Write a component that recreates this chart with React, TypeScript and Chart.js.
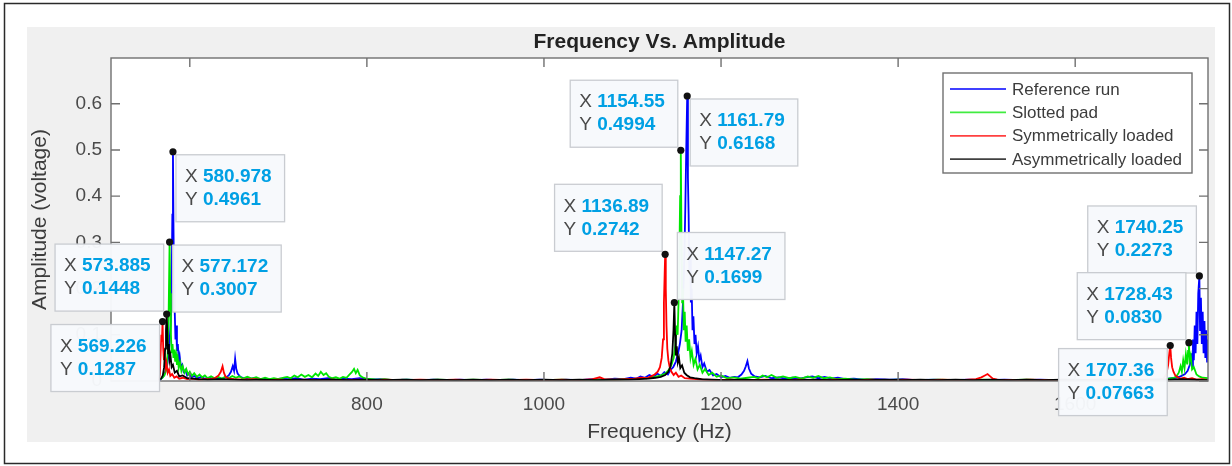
import React, { useEffect, useRef } from 'react';
import { Chart, registerables } from 'chart.js';

Chart.register(...registerables);

// ---------------- data ----------------
const SERIES_NAMES = ['Reference run', 'Slotted pad', 'Symmetrically loaded', 'Asymmetrically loaded'];
const SERIES_COLORS = ['#0000ff', '#00e600', '#ff0000', '#000000'];

const X_TICKS = [600, 800, 1000, 1200, 1400, 1600];
const X_TICK_LABELS = ['600', '800', '1000', '1200', '1400', '1600'];
const Y_TICKS = [0, 0.1, 0.2, 0.3, 0.4, 0.5, 0.6];
const Y_TICK_LABELS = ['0', '0.1', '0.2', '0.3', '0.4', '0.5', '0.6'];

const X_MIN = 511;
const X_MAX = 1750;
const Y_MIN = 0;
const Y_MAX = 0.699;

const TITLE = 'Frequency Vs. Amplitude';
const X_LABEL = 'Frequency (Hz)';
const Y_LABEL = 'Amplitude (voltage)';

// Reference run (blue)
const REFERENCE_RUN: [number, number][] = [
  [566, 0.002], [568, 0.005], [570, 0.009], [572, 0.018], [574, 0.03], [575.5, 0.05], [577, 0.08], [578.5, 0.13],
  [579.5, 0.22], [580.3, 0.36], [580.978, 0.4961], [581.6, 0.33], [582.2, 0.21], [583, 0.15], [583.8, 0.09],
  [584.6, 0.12], [585.5, 0.065], [586.5, 0.08], [587.5, 0.045], [588.5, 0.055], [590, 0.03], [591.5, 0.035],
  [593, 0.02], [595, 0.024], [597, 0.012], [599, 0.016], [602, 0.008], [605, 0.011], [609, 0.006], [613, 0.009],
  [617, 0.005], [622, 0.007], [627, 0.004], [632, 0.006], [637, 0.005], [641, 0.008], [644, 0.012], [646.5, 0.02],
  [648.5, 0.032], [650, 0.022], [651.2, 0.048], [652.5, 0.026], [654, 0.016], [657, 0.009], [661, 0.006],
  [666, 0.004], [672, 0.006], [679, 0.003], [686, 0.005], [694, 0.003], [702, 0.005], [711, 0.004], [720, 0.006],
  [729, 0.003], [738, 0.005], [747, 0.004], [756, 0.006], [765, 0.003], [774, 0.005], [783, 0.004], [792, 0.006],
  [801, 0.003], [815, 0.004], [830, 0.002], [845, 0.003], [860, 0.002], [875, 0.003], [890, 0.002], [905, 0.003],
  [920, 0.002], [935, 0.003], [950, 0.002], [965, 0.003], [980, 0.002], [995, 0.003], [1010, 0.002], [1025, 0.003],
  [1040, 0.002], [1055, 0.004], [1068, 0.003], [1080, 0.005], [1090, 0.004], [1098, 0.007], [1104, 0.005],
  [1109, 0.01], [1114, 0.007], [1119, 0.013], [1124, 0.009], [1128, 0.016], [1132, 0.011], [1136, 0.019],
  [1140, 0.014], [1143, 0.024], [1146, 0.03], [1149, 0.042], [1151.5, 0.06], [1153.5, 0.08], [1155.5, 0.11],
  [1157, 0.17], [1158.5, 0.26], [1159.7, 0.38], [1160.7, 0.5], [1161.79, 0.6168], [1162.6, 0.44], [1163.4, 0.36],
  [1164.2, 0.24], [1165, 0.29], [1165.9, 0.17], [1166.8, 0.2], [1167.8, 0.11], [1168.8, 0.14], [1170, 0.08],
  [1171.2, 0.1], [1172.5, 0.06], [1174, 0.075], [1175.5, 0.045], [1177, 0.055], [1179, 0.03], [1181, 0.038],
  [1184, 0.02], [1187, 0.024], [1191, 0.012], [1195, 0.015], [1200, 0.008], [1205, 0.011], [1210, 0.007],
  [1215, 0.009], [1219, 0.008], [1223, 0.014], [1226, 0.022], [1228, 0.032], [1229.8, 0.043], [1231.5, 0.027],
  [1234, 0.016], [1238, 0.01], [1244, 0.008], [1250, 0.011], [1257, 0.006], [1265, 0.008], [1273, 0.005],
  [1281, 0.007], [1289, 0.005], [1296, 0.008], [1303, 0.01], [1310, 0.006], [1317, 0.009], [1324, 0.005],
  [1332, 0.007], [1340, 0.004], [1350, 0.005], [1362, 0.003], [1375, 0.004], [1390, 0.003], [1405, 0.004],
  [1420, 0.002], [1440, 0.003], [1460, 0.002], [1480, 0.003], [1500, 0.002], [1520, 0.003], [1540, 0.002],
  [1560, 0.003], [1580, 0.002], [1600, 0.003], [1620, 0.002], [1640, 0.003], [1660, 0.002], [1680, 0.003],
  [1695, 0.004], [1705, 0.005], [1713, 0.007], [1719, 0.01], [1724, 0.015], [1727, 0.022], [1729.5, 0.035],
  [1731, 0.06], [1732, 0.03], [1733, 0.09], [1734, 0.045], [1735, 0.12], [1736, 0.06], [1737, 0.15], [1738, 0.08],
  [1739, 0.19], [1740.25, 0.2273], [1741, 0.11], [1742, 0.18], [1743, 0.08], [1744, 0.15], [1745, 0.06],
  [1746, 0.13], [1747, 0.05], [1748, 0.11], [1749, 0.04], [1750, 0.09],
];

// Slotted pad (green)
const SLOTTED_PAD: [number, number][] = [
  [566, 0.003], [569, 0.007], [571.5, 0.013], [573.5, 0.025], [575, 0.06], [576.2, 0.16], [577.172, 0.3007],
  [577.9, 0.19], [578.7, 0.1], [579.5, 0.06], [580.5, 0.08], [581.5, 0.05], [582.5, 0.068], [583.5, 0.042],
  [584.5, 0.058], [585.5, 0.035], [586.5, 0.048], [587.5, 0.028], [589, 0.04], [590.5, 0.022], [592, 0.032],
  [594, 0.018], [596, 0.026], [598, 0.014], [600, 0.02], [602.5, 0.011], [605, 0.017], [608, 0.009], [611, 0.014],
  [614, 0.008], [617, 0.012], [620, 0.006], [624, 0.01], [628, 0.006], [632, 0.009], [636, 0.005], [640, 0.009],
  [644, 0.006], [648, 0.011], [652, 0.007], [656, 0.01], [660, 0.005], [665, 0.009], [670, 0.005], [675, 0.008],
  [680, 0.004], [685, 0.007], [690, 0.004], [695, 0.006], [700, 0.004], [705, 0.007], [710, 0.009], [714, 0.006],
  [718, 0.012], [722, 0.008], [726, 0.014], [730, 0.009], [734, 0.013], [738, 0.008], [742, 0.016], [745, 0.011],
  [748, 0.02], [751, 0.013], [754, 0.017], [757, 0.009], [761, 0.006], [765, 0.008], [769, 0.005], [773, 0.009],
  [777, 0.007], [780, 0.013], [783, 0.019], [785.5, 0.026], [787.5, 0.017], [789.5, 0.024], [792, 0.012],
  [795, 0.008], [799, 0.005], [805, 0.004], [812, 0.003], [820, 0.004], [830, 0.002], [845, 0.003], [860, 0.002],
  [880, 0.003], [900, 0.002], [920, 0.003], [940, 0.002], [960, 0.003], [980, 0.002], [1000, 0.002], [1020, 0.003],
  [1040, 0.002], [1060, 0.003], [1080, 0.003], [1095, 0.004], [1108, 0.005], [1118, 0.007], [1126, 0.009],
  [1132, 0.012], [1137, 0.016], [1141, 0.024], [1144, 0.035], [1146.5, 0.05], [1148.5, 0.08], [1150, 0.12],
  [1151, 0.1], [1152, 0.17], [1153, 0.28], [1153.8, 0.4], [1154.55, 0.4994], [1155.3, 0.32], [1156.1, 0.17],
  [1157, 0.2], [1158, 0.11], [1159, 0.15], [1160, 0.085], [1161.2, 0.12], [1162.5, 0.065], [1164, 0.09],
  [1165.5, 0.05], [1167, 0.065], [1169, 0.035], [1171, 0.048], [1173.5, 0.025], [1176, 0.035], [1179, 0.018],
  [1182, 0.026], [1186, 0.013], [1190, 0.018], [1195, 0.009], [1200, 0.012], [1207, 0.006], [1214, 0.008],
  [1222, 0.005], [1230, 0.007], [1237, 0.009], [1242, 0.006], [1247, 0.012], [1252, 0.008], [1257, 0.013],
  [1263, 0.007], [1270, 0.01], [1277, 0.006], [1284, 0.009], [1291, 0.005], [1298, 0.01], [1304, 0.007],
  [1310, 0.011], [1316, 0.006], [1323, 0.008], [1330, 0.004], [1340, 0.005], [1352, 0.003], [1365, 0.004],
  [1380, 0.002], [1400, 0.003], [1420, 0.002], [1445, 0.003], [1470, 0.002], [1495, 0.003], [1520, 0.002],
  [1545, 0.003], [1570, 0.002], [1595, 0.003], [1620, 0.002], [1645, 0.003], [1670, 0.002], [1690, 0.003],
  [1702, 0.004], [1710, 0.006], [1714, 0.009], [1717, 0.018], [1719, 0.032], [1720.5, 0.02], [1722, 0.045],
  [1723.5, 0.028], [1725, 0.058], [1726.5, 0.036], [1727.5, 0.065], [1728.43, 0.083], [1729.3, 0.045],
  [1730.5, 0.055], [1732, 0.025], [1734, 0.03], [1737, 0.014], [1740, 0.01], [1744, 0.007], [1750, 0.006],
];

// Symmetrically loaded (red)
const SYMMETRICALLY_LOADED: [number, number][] = [
  [565, 0.001], [566.2, 0.015], [567, 0.06], [567.8, 0.1], [568.5, 0.085], [569.226, 0.1287], [570, 0.07],
  [570.8, 0.045], [571.6, 0.06], [572.5, 0.03], [573.5, 0.04], [575, 0.018], [576.5, 0.025], [578, 0.011],
  [580, 0.015], [582.5, 0.007], [585, 0.01], [588, 0.005], [592, 0.007], [597, 0.004], [603, 0.005], [610, 0.003],
  [617, 0.004], [624, 0.004], [629, 0.007], [632.5, 0.012], [635, 0.02], [637, 0.032], [638.5, 0.018],
  [640.5, 0.009], [644, 0.005], [650, 0.004], [660, 0.003], [672, 0.004], [685, 0.002], [700, 0.003], [715, 0.002],
  [730, 0.003], [745, 0.002], [760, 0.003], [775, 0.002], [790, 0.003], [805, 0.002], [820, 0.003], [840, 0.002],
  [860, 0.003], [880, 0.002], [900, 0.003], [920, 0.002], [940, 0.003], [960, 0.002], [980, 0.003], [1000, 0.002],
  [1020, 0.003], [1040, 0.002], [1055, 0.004], [1063, 0.008], [1068, 0.004], [1080, 0.003], [1092, 0.004],
  [1102, 0.005], [1110, 0.007], [1116, 0.006], [1121, 0.01], [1125, 0.014], [1128.5, 0.02], [1131, 0.03],
  [1133, 0.05], [1134.5, 0.09], [1135.5, 0.17], [1136.3, 0.23], [1136.89, 0.2742], [1137.6, 0.2], [1138.4, 0.12],
  [1139.3, 0.07], [1140.5, 0.045], [1142, 0.03], [1144, 0.02], [1146.5, 0.013], [1149, 0.018], [1152, 0.009],
  [1155, 0.012], [1159, 0.006], [1165, 0.005], [1172, 0.004], [1180, 0.003], [1195, 0.002], [1210, 0.003],
  [1230, 0.002], [1250, 0.003], [1270, 0.002], [1290, 0.003], [1310, 0.002], [1330, 0.003], [1350, 0.002],
  [1370, 0.003], [1390, 0.002], [1410, 0.003], [1430, 0.002], [1450, 0.003], [1470, 0.002], [1488, 0.004],
  [1494, 0.008], [1498, 0.012], [1501, 0.015], [1504, 0.01], [1507, 0.005], [1512, 0.003], [1530, 0.002],
  [1550, 0.003], [1570, 0.002], [1590, 0.003], [1610, 0.002], [1630, 0.003], [1650, 0.002], [1670, 0.003],
  [1685, 0.002], [1696, 0.003], [1700, 0.006], [1703, 0.015], [1705, 0.035], [1706.3, 0.06], [1707.36, 0.07663],
  [1708.3, 0.05], [1709.5, 0.03], [1711, 0.02], [1713, 0.012], [1716, 0.008], [1719, 0.005], [1723, 0.007],
  [1727, 0.004], [1732, 0.006], [1737, 0.003], [1743, 0.004], [1750, 0.002],
];

// Asymmetrically loaded (black)
const ASYMMETRICALLY_LOADED: [number, number][] = [
  [565, 0.002], [567.5, 0.005], [569.5, 0.012], [571, 0.03], [572.2, 0.07], [573.1, 0.11], [573.885, 0.1448],
  [574.7, 0.1], [575.5, 0.06], [576.3, 0.08], [577.2, 0.045], [578.2, 0.055], [579.5, 0.03], [581, 0.035],
  [583, 0.018], [585.5, 0.022], [588, 0.01], [592, 0.012], [597, 0.006], [603, 0.005], [610, 0.004], [620, 0.003],
  [635, 0.004], [650, 0.003], [665, 0.002], [680, 0.003], [700, 0.002], [720, 0.003], [740, 0.002], [760, 0.003],
  [780, 0.002], [800, 0.003], [820, 0.002], [840, 0.003], [860, 0.002], [880, 0.003], [900, 0.002], [920, 0.003],
  [940, 0.002], [960, 0.003], [980, 0.002], [1000, 0.003], [1020, 0.002], [1040, 0.003], [1060, 0.002],
  [1080, 0.003], [1095, 0.003], [1108, 0.004], [1118, 0.005], [1126, 0.007], [1132, 0.009], [1137, 0.013],
  [1140.5, 0.02], [1143, 0.032], [1145, 0.06], [1146.3, 0.11], [1147.27, 0.1699], [1148.1, 0.1], [1149, 0.055],
  [1150, 0.075], [1151.2, 0.04], [1152.5, 0.05], [1154, 0.028], [1156, 0.034], [1158.5, 0.018], [1161, 0.013],
  [1165, 0.008], [1170, 0.006], [1178, 0.004], [1190, 0.003], [1205, 0.002], [1225, 0.003], [1245, 0.002],
  [1265, 0.003], [1285, 0.002], [1305, 0.003], [1325, 0.002], [1345, 0.003], [1365, 0.002], [1385, 0.003],
  [1405, 0.002], [1425, 0.003], [1445, 0.002], [1465, 0.003], [1485, 0.002], [1505, 0.003], [1525, 0.002],
  [1545, 0.003], [1565, 0.002], [1585, 0.003], [1605, 0.002], [1625, 0.003], [1645, 0.002], [1665, 0.003],
  [1685, 0.002], [1705, 0.003], [1720, 0.004], [1735, 0.003], [1750, 0.002],
];

const SERIES_DATA = [REFERENCE_RUN, SLOTTED_PAD, SYMMETRICALLY_LOADED, ASYMMETRICALLY_LOADED];

// Data tips: x value, y value, labels, box placement relative to the point
const TIP_X = [580.978, 573.885, 577.172, 569.226, 1154.55, 1161.79, 1136.89, 1147.27, 1740.25, 1728.43, 1707.36];
const TIP_Y = [0.4961, 0.1448, 0.3007, 0.1287, 0.4994, 0.6168, 0.2742, 0.1699, 0.2273, 0.083, 0.07663];
const TIP_X_LABELS = ['580.978', '573.885', '577.172', '569.226', '1154.55', '1161.79', '1136.89', '1147.27', '1740.25', '1728.43', '1707.36'];
const TIP_Y_LABELS = ['0.4961', '0.1448', '0.3007', '0.1287', '0.4994', '0.6168', '0.2742', '0.1699', '0.2273', '0.0830', '0.07663'];
const TIP_PLACE = ['se', 'nw', 'se', 'sw', 'nw', 'se', 'nw', 'ne', 'nw', 'nw', 'sw'];

// ---------------- styling ----------------
const W = 1232;
const H = 466;
const FONT = "'Liberation Sans', Arial, Helvetica, sans-serif";
const AXIS_COLOR = '#707070';
const TEXT_COLOR = '#3c3c3c';
const TICK_COLOR = '#4a4a4a';
const TIP_VALUE_COLOR = '#00a0e4';

const matlabPlugin = {
  id: 'matlabLook',
  beforeDraw(chart: any) {
    const { ctx, chartArea: a } = chart;
    ctx.save();
    ctx.fillStyle = '#ffffff';
    ctx.fillRect(0, 0, W, H);
    ctx.fillStyle = '#f0f0f0';
    ctx.fillRect(27, 27, 1188, 415);
    ctx.fillStyle = '#ffffff';
    ctx.fillRect(a.left, a.top, a.right - a.left, a.bottom - a.top);
    ctx.strokeStyle = '#2a2a2a';
    ctx.lineWidth = 1.5;
    ctx.strokeRect(4.5, 3.5, 1225, 460);
    ctx.restore();
  },
  afterDatasetsDraw(chart: any) {
    const { ctx, chartArea: a, scales } = chart;
    ctx.save();
    ctx.strokeStyle = AXIS_COLOR;
    ctx.lineWidth = 1.4;
    ctx.strokeRect(a.left, a.top, a.right - a.left, a.bottom - a.top);
    ctx.beginPath();
    X_TICKS.forEach((v) => {
      const x = scales.x.getPixelForValue(v);
      ctx.moveTo(x, a.bottom);
      ctx.lineTo(x, a.bottom - 9);
      ctx.moveTo(x, a.top);
      ctx.lineTo(x, a.top + 9);
    });
    Y_TICKS.forEach((v) => {
      const y = scales.y.getPixelForValue(v);
      ctx.moveTo(a.left, y);
      ctx.lineTo(a.left + 9, y);
      ctx.moveTo(a.right, y);
      ctx.lineTo(a.right - 9, y);
    });
    ctx.stroke();
    ctx.restore();
  },
  afterDraw(chart: any) {
    const { ctx, chartArea: a, scales } = chart;
    ctx.save();
    const cx = (a.left + a.right) / 2;
    const cy = (a.top + a.bottom) / 2;

    // title
    ctx.fillStyle = '#222222';
    ctx.font = `bold 21px ${FONT}`;
    ctx.textAlign = 'center';
    ctx.textBaseline = 'middle';
    ctx.fillText(TITLE, cx, a.top - 16);

    // x label
    ctx.fillStyle = TEXT_COLOR;
    ctx.font = `21px ${FONT}`;
    ctx.fillText(X_LABEL, cx, a.bottom + 51);

    // y label
    ctx.save();
    ctx.translate(a.left - 71, cy);
    ctx.rotate(-Math.PI / 2);
    ctx.fillText(Y_LABEL, 0, 0);
    ctx.restore();

    // legend
    const lw = 249;
    const lh = 100;
    const lx = a.right - 16 - lw;
    const ly = a.top + 15;
    ctx.fillStyle = '#ffffff';
    ctx.fillRect(lx, ly, lw, lh);
    ctx.strokeStyle = AXIS_COLOR;
    ctx.lineWidth = 1.4;
    ctx.strokeRect(lx, ly, lw, lh);
    ctx.font = `17px ${FONT}`;
    ctx.textAlign = 'left';
    ctx.textBaseline = 'middle';
    SERIES_NAMES.forEach((name, i) => {
      const ry = ly + 16 + i * 23.4;
      ctx.strokeStyle = SERIES_COLORS[i];
      ctx.globalAlpha = 0.75;
      ctx.lineWidth = 1.8;
      ctx.beginPath();
      ctx.moveTo(lx + 7, ry);
      ctx.lineTo(lx + 63, ry);
      ctx.stroke();
      ctx.globalAlpha = 1;
      ctx.fillStyle = TEXT_COLOR;
      ctx.fillText(name, lx + 69, ry + 1);
    });

    // data tips
    TIP_X.forEach((xv, i) => {
      const px = scales.x.getPixelForValue(xv);
      const py = scales.y.getPixelForValue(TIP_Y[i]);
      ctx.font = `19px ${FONT}`;
      const wX = ctx.measureText('X ').width;
      const wY = ctx.measureText('Y ').width;
      ctx.font = `bold 19px ${FONT}`;
      const w1 = ctx.measureText(TIP_X_LABELS[i]).width;
      const w2 = ctx.measureText(TIP_Y_LABELS[i]).width;
      const bw = 9 + Math.max(wX + w1, wY + w2) + 13;
      const bh = 67;
      const place = TIP_PLACE[i];
      const bx = place.includes('e') ? px + 3 : px - 3 - bw;
      const by = place.includes('s') ? py + 3 : py - 3 - bh;
      ctx.fillStyle = 'rgba(247,249,252,0.97)';
      ctx.fillRect(bx, by, bw, bh);
      ctx.strokeStyle = '#c9ccd1';
      ctx.lineWidth = 1.3;
      ctx.strokeRect(bx, by, bw, bh);
      ctx.textAlign = 'left';
      ctx.textBaseline = 'middle';
      ctx.font = `19px ${FONT}`;
      ctx.fillStyle = '#4a4a4a';
      ctx.fillText('X', bx + 9, by + 22);
      ctx.fillText('Y', bx + 9, by + 45);
      ctx.font = `bold 19px ${FONT}`;
      ctx.fillStyle = TIP_VALUE_COLOR;
      ctx.fillText(TIP_X_LABELS[i], bx + 9 + wX, by + 22);
      ctx.fillText(TIP_Y_LABELS[i], bx + 9 + wY, by + 45);
    });
    TIP_X.forEach((xv, i) => {
      const px = scales.x.getPixelForValue(xv);
      const py = scales.y.getPixelForValue(TIP_Y[i]);
      ctx.fillStyle = '#111111';
      ctx.beginPath();
      ctx.arc(px, py, 3.6, 0, Math.PI * 2);
      ctx.fill();
    });
    ctx.restore();
  },
};

export default function App() {
  const canvasRef = useRef<HTMLCanvasElement | null>(null);

  useEffect(() => {
    document.body.style.margin = '0';
    const canvas = canvasRef.current;
    if (!canvas) return;
    const datasets = SERIES_DATA.map((series, i) => ({
      label: SERIES_NAMES[i],
      data: series.map(([x, y]) => ({ x, y })),
      borderColor: SERIES_COLORS[i],
      backgroundColor: SERIES_COLORS[i],
      borderWidth: 1.8,
      pointRadius: 0,
      tension: 0,
      fill: false,
      order: 4 - i,
    }));
    const chart = new Chart(canvas, {
      type: 'line',
      data: { datasets },
      options: {
        responsive: false,
        animation: false,
        events: [],
        layout: { padding: { left: 0, top: 58, right: 24, bottom: 0 } },
        plugins: {
          legend: { display: false },
          title: { display: false },
          tooltip: { enabled: false },
        },
        scales: {
          x: {
            type: 'linear',
            min: X_MIN,
            max: X_MAX,
            grid: { display: false, drawTicks: false },
            border: { display: false },
            afterBuildTicks: (scale: any) => {
              scale.ticks = X_TICKS.map((v) => ({ value: v }));
            },
            afterFit: (scale: any) => {
              scale.height = 85;
            },
            ticks: {
              maxRotation: 0,
              autoSkip: false,
              padding: 12,
              color: TICK_COLOR,
              font: { family: FONT, size: 19 },
              callback: (v: any) => X_TICK_LABELS[X_TICKS.indexOf(Number(v))] ?? String(v),
            },
          },
          y: {
            type: 'linear',
            min: Y_MIN,
            max: Y_MAX,
            grid: { display: false, drawTicks: false },
            border: { display: false },
            afterBuildTicks: (scale: any) => {
              scale.ticks = Y_TICKS.map((v) => ({ value: v }));
            },
            afterFit: (scale: any) => {
              scale.width = 111;
            },
            ticks: {
              autoSkip: false,
              padding: 9,
              color: TICK_COLOR,
              font: { family: FONT, size: 19 },
              callback: (v: any) => {
                const idx = Y_TICKS.findIndex((t) => Math.abs(t - Number(v)) < 1e-9);
                return idx >= 0 ? Y_TICK_LABELS[idx] : String(v);
              },
            },
          },
        },
      },
      plugins: [matlabPlugin],
    } as any);
    return () => chart.destroy();
  }, []);

  return (
    <div style={{ position: 'relative', width: W, height: H }}>
      <canvas ref={canvasRef} width={W} height={H} style={{ display: 'block', width: W, height: H }} />
    </div>
  );
}
